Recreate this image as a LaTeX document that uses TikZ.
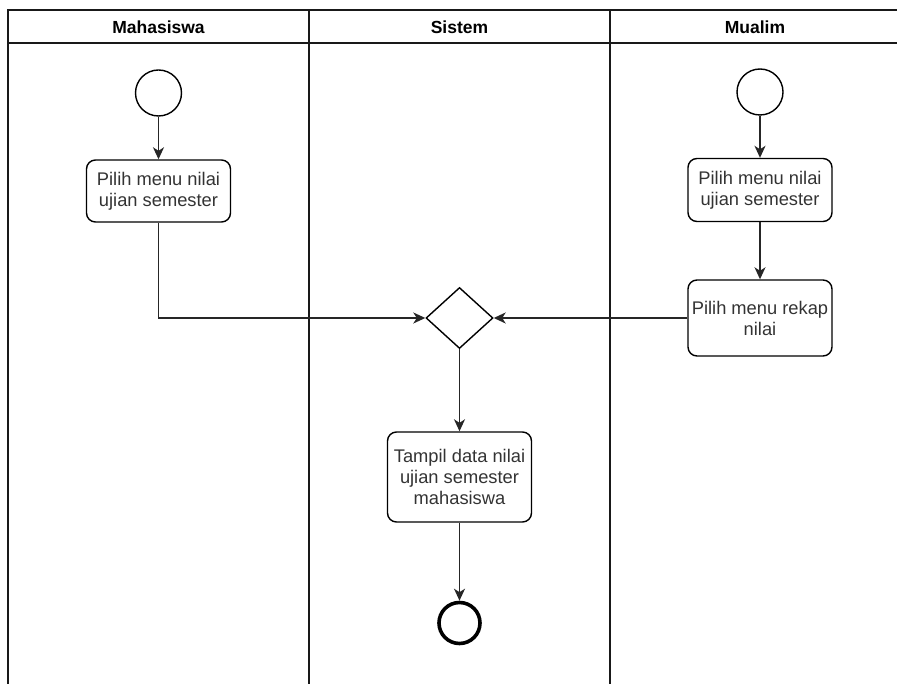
\documentclass[tikz,border=0pt]{standalone}
\usepackage{fontspec}
\setmainfont{Liberation Sans}
\usepackage{tikz}
\usetikzlibrary {positioning}
\usetikzlibrary{arrows.meta,shapes.geometric}
\tikzset{edge/.style = {-{Stealth[length=12pt,width=11pt,inset=3.5pt]}, line width=1.5pt, draw=black!85}}

\begin{document}
\begin{tikzpicture}[x=1pt,y=-1pt,node distance=98pt,
    lane/.style={line width=1.8pt,draw=black!90},
    lane title/.style={font=\fontsize{17.5}{20}\selectfont\bfseries},
    start node/.style={circle,draw,line width=1.4pt,minimum size=46pt,inner sep=0pt},
    end node/.style={circle,draw,line width=3.6pt,minimum size=41pt,inner sep=0pt},
    action node/.style={rectangle,rounded corners=9pt,draw,line width=1.4pt,align=center,text=black!80,minimum width=144pt,inner sep=0pt,font=\fontsize{18.3}{21}\selectfont},
    merge node/.style={diamond,draw,line width=1.4pt,minimum width=67pt,minimum height=61pt,inner sep=0pt}]
                \clip (0,0) rectangle (897,684);

                % swimlanes
                \draw[lane] (8,10) rectangle (905,700);
                \draw[lane] (8,43) -- (905,43);
                \draw[lane] (309,10) -- (309,700);
                \draw[lane] (610,10) -- (610,700);
                \node[lane title] (h1) at (158.5,27) {Mahasiswa};
                \node[lane title] (h2) at (459.5,27) {Sistem};
                \node[lane title] (h3) at (755,27) {Mualim};

                % Mahasiswa
                \node[start node] (s1) at (158.5,93) {};
                \node[action node, minimum height=62pt] (a1) [below of=s1] {Pilih menu nilai\\ujian semester};

                % Mualim
                \node[start node] (s2) at (760,92) {};
                \node[action node, minimum height=63pt] (a2) [below of=s2] {Pilih menu nilai\\ujian semester};
                \node[action node, minimum height=76pt, node distance=128pt] (a3) [below of=a2] {Pilih menu rekap\\nilai};

                % Sistem
                \node[merge node] (m) at (459.5,318) {};
                \node[action node, minimum height=90pt, node distance=159pt] (a4) [below of=m] {Tampil data nilai\\ujian semester\\mahasiswa};
                \node[end node, node distance=146pt] (e) [below of=a4] {};

                \draw[edge] (s1) -- (a1);
                \draw[edge] (a1.south) |- (m.west);
                \draw[edge] (s2) -- (a2);
                \draw[edge] (a2) -- (a3);
                \draw[edge] (a3.west |- m.east) -- (m.east);
                \draw[edge] (m) -- (a4);
                \draw[edge] (a4) -- (e);
            \end{tikzpicture}
\end{document}
